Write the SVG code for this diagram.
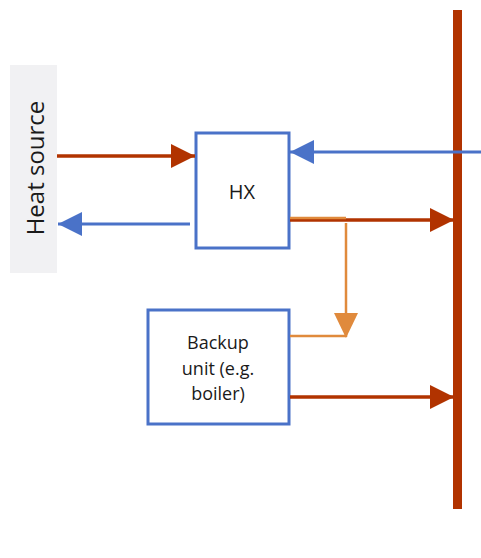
<svg xmlns="http://www.w3.org/2000/svg" width="481" height="558" viewBox="0 0 481 558">
<style>
.box{fill:#fff;stroke:#4a72c8;stroke-width:3}
.red{stroke:#b13300;stroke-width:3.5;fill:none}
.blue{stroke:#4a72c8;stroke-width:3;fill:none}
.orange{stroke:#e08a3c;stroke-width:2.5;fill:none}
.t{font-family:"Open Sans","Liberation Sans",sans-serif;fill:#1a1a1a;text-anchor:middle}
</style>
<defs>
<marker id="ar" markerUnits="userSpaceOnUse" markerWidth="26" markerHeight="26" refX="24" refY="12" orient="auto"><path d="M0,0 L24,12 L0,24 Z" fill="#b13300"/></marker>
<marker id="ab" markerUnits="userSpaceOnUse" markerWidth="26" markerHeight="26" refX="24" refY="12" orient="auto"><path d="M0,0 L24,12 L0,24 Z" fill="#4a72c8"/></marker>
<marker id="ao" markerUnits="userSpaceOnUse" markerWidth="26" markerHeight="28" refX="24" refY="12" orient="auto"><path d="M0,0 L25,12 L0,24 Z" fill="#e08a3c"/></marker>
</defs>
<rect width="481" height="558" fill="#fff"/>
<g id="bus"><rect x="453" y="10" width="9" height="499" fill="#b13300"/></g>
<g id="heat-source"><rect x="10" y="65" width="47" height="208" fill="#f1f1f3"/><text class="t" font-size="24" transform="translate(44,168) rotate(-90)">Heat source</text></g>
<g id="hx"><rect class="box" x="196" y="133" width="93" height="115"/><text class="t" font-size="20" x="242" y="199">HX</text></g>
<g id="backup"><rect class="box" x="148" y="310" width="141" height="114"/><text class="t" font-size="18" x="218" y="349">Backup</text><text class="t" font-size="18" x="218" y="375">unit (e.g.</text><text class="t" font-size="18" x="218" y="400">boiler)</text></g>
<g id="connectors">
<path class="red" d="M57,156 H195" marker-end="url(#ar)"/>
<path class="blue" d="M190,224 H58" marker-end="url(#ab)"/>
<path class="blue" d="M481,152 H290" marker-end="url(#ab)"/>
<path class="red" d="M290,220 H454" marker-end="url(#ar)"/>
<path class="orange" d="M290,218 H346" stroke-width="2"/>
<path class="orange" d="M346,223 V337" marker-end="url(#ao)"/>
<path class="orange" d="M290,336 H346" stroke-width="2"/>
<path class="red" d="M290,397 H454" marker-end="url(#ar)"/>
</g>
</svg>
